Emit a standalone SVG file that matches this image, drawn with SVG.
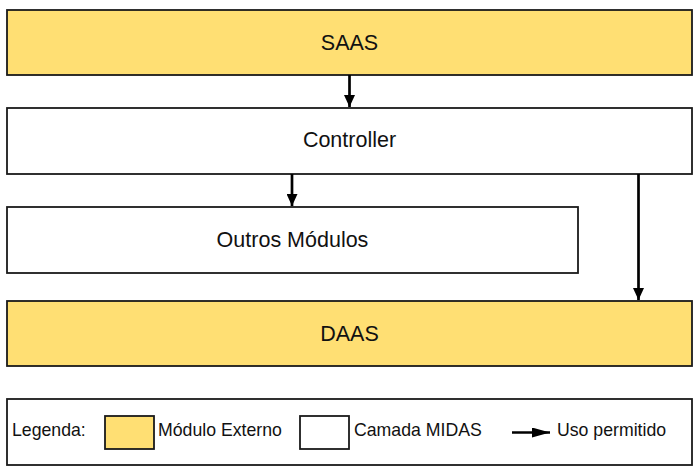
<svg xmlns="http://www.w3.org/2000/svg" width="698" height="473" viewBox="0 0 698 473">
  <style>
    .box { stroke: #1a1a1a; stroke-width: 1.8; }
    .ext { fill: #FFDF73; }
    .mid { fill: #FFFFFF; }
    .lbl { font-family: "Liberation Sans", Arial, sans-serif; font-size: 21.5px; fill: #111; text-anchor: middle; }
    .leg { font-family: "Liberation Sans", Arial, sans-serif; font-size: 17.7px; fill: #111; }
    .conn { stroke: #000; stroke-width: 2.7; fill: none; marker-end: url(#arrow); }
  </style>
  <defs>
    <marker id="arrow" viewBox="0 0 12 11" refX="12" refY="5.5" markerWidth="12" markerHeight="11" markerUnits="userSpaceOnUse" orient="auto">
      <path d="M0,0 L12,5.5 L0,11 Z" fill="#000"/>
    </marker>
    <marker id="arrowLeg" viewBox="0 0 18 10" refX="18" refY="5" markerWidth="18" markerHeight="10" markerUnits="userSpaceOnUse" orient="auto">
      <path d="M0,0 L18,5 L0,10 Z" fill="#000"/>
    </marker>
  </defs>
  <rect width="698" height="473" fill="#fff"/>

  <g id="saas">
    <rect class="box ext" x="7" y="10" width="685" height="65"/>
    <text class="lbl" x="349.5" y="49.5">SAAS</text>
  </g>
  <g id="controller">
    <rect class="box mid" x="7" y="108" width="685" height="66"/>
    <text class="lbl" x="349.5" y="147">Controller</text>
  </g>
  <g id="outros">
    <rect class="box mid" x="7" y="207" width="571" height="66"/>
    <text class="lbl" x="292.5" y="246.5">Outros Módulos</text>
  </g>
  <g id="daas">
    <rect class="box ext" x="7" y="301" width="685" height="65"/>
    <text class="lbl" x="349.5" y="340.5">DAAS</text>
  </g>

  <g id="legend">
    <rect class="box mid" x="7" y="399" width="685" height="66"/>
    <text class="leg" x="12" y="436">Legenda:</text>
    <rect class="box ext" x="105" y="416" width="49" height="33"/>
    <text class="leg" x="158" y="436">Módulo Externo</text>
    <rect class="box mid" x="300" y="416" width="49" height="33"/>
    <text class="leg" x="354" y="436">Camada MIDAS</text>
    <line x1="512" y1="432.5" x2="550" y2="432.5" stroke="#000" stroke-width="2.7" marker-end="url(#arrowLeg)"/>
    <text class="leg" x="557" y="436">Uso permitido</text>
  </g>

  <g id="connectors">
    <line class="conn" x1="349.5" y1="75" x2="349.5" y2="107"/>
    <line class="conn" x1="292" y1="174" x2="292" y2="206"/>
    <line class="conn" x1="638.5" y1="174" x2="638.5" y2="300"/>
  </g>
</svg>
